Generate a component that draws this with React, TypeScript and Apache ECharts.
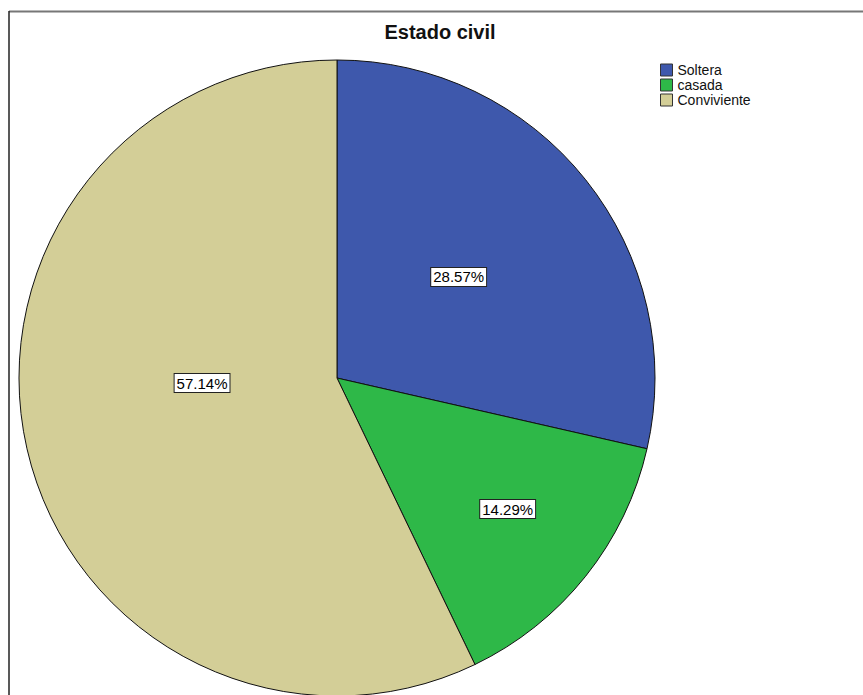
import React, { useEffect, useRef } from "react";
import * as echarts from "echarts";

const categories = ["Soltera", "casada", "Conviviente"];
const counts = [2, 1, 4];
const colors = ["#3E58AC", "#2EB848", "#D3CE97"];
const labelShift = [
  [-5, 0],
  [44, 30],
  [23, -31],
];

export default function App() {
  const ref = useRef<HTMLDivElement>(null);
  useEffect(() => {
    document.body.style.margin = "0";
    const chart = echarts.init(ref.current!, null, { renderer: "svg" });
    chart.setOption({
      animation: false,
      backgroundColor: "#fff",
      title: {
        text: "Estado civil",
        left: 440,
        top: 22,
        textAlign: "center",
        padding: 0,
        textStyle: {
          fontFamily: "Arial, 'Liberation Sans', sans-serif",
          fontSize: 20,
          fontWeight: "bold",
          color: "#111",
        },
      },
      legend: {
        orient: "vertical",
        left: 660,
        top: 63,
        padding: 0,
        itemWidth: 12,
        itemHeight: 12,
        itemGap: 1,
        icon: "rect",
        selectedMode: false,
        data: categories,
        itemStyle: { borderColor: "#333", borderWidth: 1 },
        textStyle: {
          fontFamily: "Arial, 'Liberation Sans', sans-serif",
          fontSize: 14,
          color: "#111",
          lineHeight: 13,
          padding: [0, 0, 0, 0],
        },
      },
      graphic: [
        {
          type: "line",
          shape: { x1: 9, y1: 11.5, x2: 863, y2: 11.5 },
          style: { stroke: "#777", lineWidth: 2 },
          silent: true,
        },
        {
          type: "line",
          shape: { x1: 9, y1: 11, x2: 9, y2: 695 },
          style: { stroke: "#222", lineWidth: 1.5 },
          silent: true,
        },
      ],
      series: [
        {
          type: "pie",
          center: [337, 378],
          radius: 318,
          startAngle: 90,
          clockwise: true,
          silent: true,
          percentPrecision: 2,
          emphasis: { disabled: true },
          itemStyle: { borderColor: "#111", borderWidth: 1 },
          label: {
            show: true,
            position: "inside",
            formatter: "{d}%",
            fontFamily: "Arial, 'Liberation Sans', sans-serif",
            fontSize: 15,
            color: "#000",
            backgroundColor: "#fff",
            borderColor: "#222",
            borderWidth: 1,
            padding: [2, 2, 1, 2],
          },
          labelLine: { show: false },
          labelLayout: (p: any) => ({
            dx: labelShift[p.dataIndex][0],
            dy: labelShift[p.dataIndex][1],
          }),
          data: categories.map((c, i) => ({
            name: c,
            value: counts[i],
            itemStyle: { color: colors[i] },
          })),
        },
      ],
    });
    return () => chart.dispose();
  }, []);
  return (
    <div
      ref={ref}
      style={{ position: "fixed", left: 0, top: 0, width: 863, height: 695 }}
    />
  );
}
